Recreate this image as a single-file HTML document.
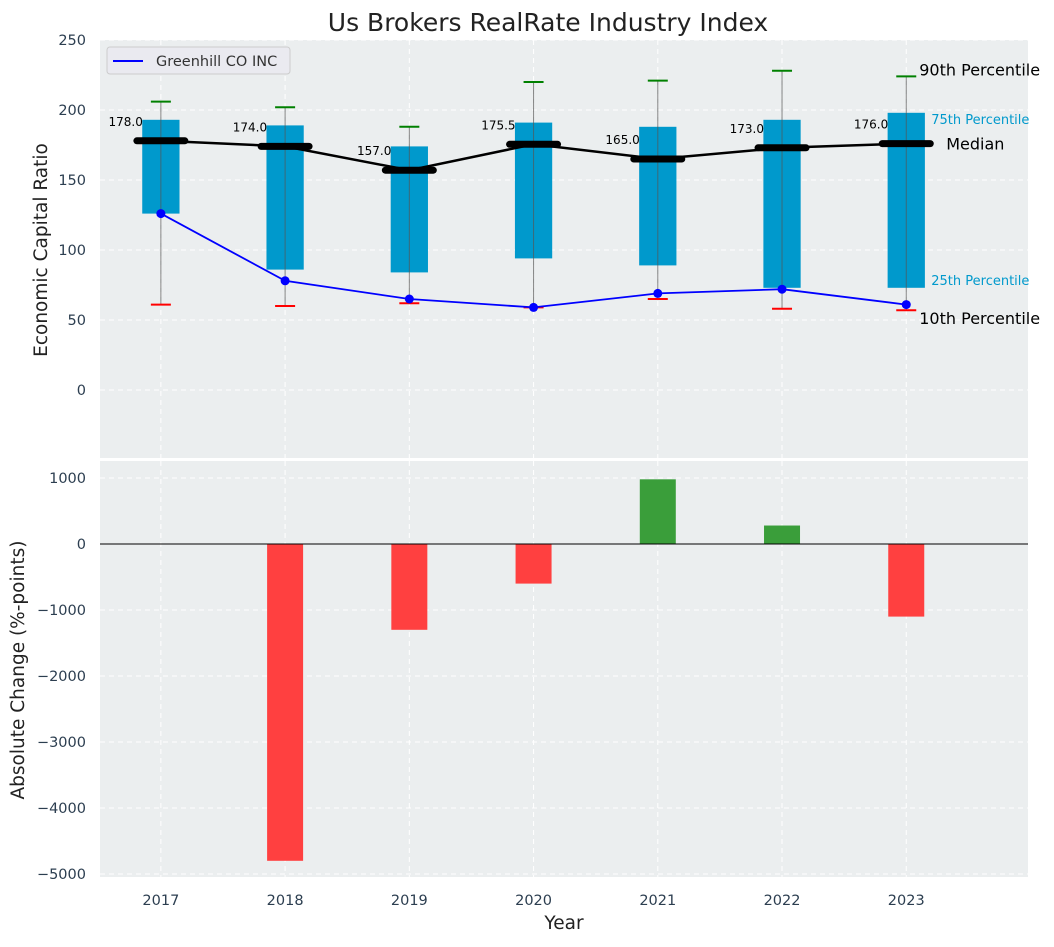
<!DOCTYPE html>
<html><head><meta charset="utf-8"><style>
body{margin:0;background:#fff;font-family:"Liberation Sans","DejaVu Sans",sans-serif}
svg text{font-family:"DejaVu Sans","Liberation Sans",sans-serif}
</style></head><body>
<svg id="c" width="1054" height="942" xmlns="http://www.w3.org/2000/svg"></svg>
<script>
const years=[2017,2018,2019,2020,2021,2022,2023];
const p10=[61,60,62,59,65,58,57];
const p25=[126,86,84,94,89,73,73];
const med=[178,174,157,175.5,165,173,176];
const p75=[193,189,174,191,188,193,198];
const p90=[206,202,188,220,221,228,224];
const company=[126,78,65,59,69,72,61];
const changes=[null,-4800,-1300,-600,980,280,-1100];
const topTicks=[0,50,100,150,200,250];
const botTicks=[-5000,-4000,-3000,-2000,-1000,0,1000];

const svg=document.getElementById('c');
const NS='http://www.w3.org/2000/svg';
function el(tag,a,parent){const e=document.createElementNS(NS,tag);for(const k in a)e.setAttribute(k,a[k]);(parent||svg).appendChild(e);return e;}
const L=100,R=1028;
const TC='#2c3e50';
const x=v=>L+(v-2016.51)/(2023.98-2016.51)*(R-L);
const yT=v=>390-v*1.4;
const yB=v=>544-v*0.066;
const bw=0.3*(x(2018)-x(2017));

let bg=el('rect',{x:L,y:40,width:R-L,height:418,fill:'#ebeeef'});

let bg2=el('rect',{x:L,y:461,width:R-L,height:416,fill:'#ebeeef'});


years.forEach(yr=>{
  el('line',{x1:x(yr),x2:x(yr),y1:40,y2:458,stroke:'#fff','stroke-dasharray':'5,4','stroke-width':1});
  el('line',{x1:x(yr),x2:x(yr),y1:461,y2:877,stroke:'#fff','stroke-dasharray':'5,4','stroke-width':1});
  let t=el('text',{x:x(yr),y:905,'text-anchor':'middle','font-size':14.5,fill:TC});t.textContent=yr;
  
});
topTicks.forEach(v=>{
  el('line',{x1:L,x2:R,y1:yT(v),y2:yT(v),stroke:'#fff','stroke-dasharray':'5,4'});
  let t=el('text',{x:86,y:yT(v)+5,'text-anchor':'end','font-size':14.5,fill:TC});t.textContent=v;
  
});
botTicks.forEach(v=>{
  el('line',{x1:L,x2:R,y1:yB(v),y2:yB(v),stroke:'#fff','stroke-dasharray':'5,4'});
  let t=el('text',{x:86,y:yB(v)+5,'text-anchor':'end','font-size':14.5,fill:TC});t.textContent=v<0?'\u2212'+(-v):v;
  
});

years.forEach((yr,i)=>{
  const cx=x(yr);
  let b=el('rect',{x:cx-bw/2,y:yT(p75[i]),width:bw,height:yT(p25[i])-yT(p75[i]),fill:'#0099cc'});
  
  el('line',{x1:cx,x2:cx,y1:yT(p90[i]),y2:yT(p10[i]),stroke:'#555','stroke-width':1,opacity:0.7});
  el('line',{x1:cx-10,x2:cx+10,y1:yT(p90[i]),y2:yT(p90[i]),stroke:'green','stroke-width':2});
  el('line',{x1:cx-10,x2:cx+10,y1:yT(p10[i]),y2:yT(p10[i]),stroke:'red','stroke-width':2});
});
let mp=years.map((yr,i)=>x(yr)+','+yT(med[i])).join(' ');
let ml=el('polyline',{points:mp,fill:'none',stroke:'#000','stroke-width':2.5});

years.forEach((yr,i)=>{
  const cx=x(yr);
  let m=el('line',{x1:cx-24,x2:cx+24,y1:yT(med[i]),y2:yT(med[i]),stroke:'#000','stroke-width':7,'stroke-linecap':'round'});
  
  let t=el('text',{x:cx-18,y:yT(med[i])-15,'text-anchor':'end','font-size':12,fill:'#000'});t.textContent=med[i].toFixed(1);
  
});
let cl=el('polyline',{points:years.map((yr,i)=>x(yr)+','+yT(company[i])).join(' '),fill:'none',stroke:'blue','stroke-width':1.8});

years.forEach((yr,i)=>{let c=el('circle',{cx:x(yr),cy:yT(company[i]),r:4.5,fill:'blue'});
  });

const li=6,lx=x(years[li]);
function ann(txt,xx,yy,sz,col,name){let t=el('text',{x:xx,y:yy,'font-size':sz,fill:col});t.textContent=txt;}
ann('90th Percentile',lx+13,yT(p90[li])-1,16,'#000','p90-annotation');
ann('75th Percentile',lx+25,yT(p75[li])+11,13,'#0099cc','p75-annotation');
ann('Median',lx+40,yT(med[li])+6,16,'#000','median-annotation');
ann('25th Percentile',lx+25,yT(p25[li])-3,13,'#0099cc','p25-annotation');
ann('10th Percentile',lx+13,yT(p10[li])+14,16,'#000','p10-annotation');

let lg=el('rect',{x:107,y:47,width:183,height:27,rx:3,fill:'#eaeaf0',stroke:'#ccc'});

el('line',{x1:113,x2:143,y1:61,y2:61,stroke:'blue','stroke-width':2});
ann('Greenhill CO INC',156,66,14.5,'#333','legend-entry');

years.forEach((yr,i)=>{
  const v=changes[i]; if(v===null) return;
  let b=el('rect',{x:x(yr)-18,y:Math.min(yB(v),yB(0)),width:36,height:Math.abs(yB(v)-yB(0)),fill:v>=0?'#3a9e3a':'#ff4040'});
  
});
el('line',{x1:L,x2:R,y1:yB(0),y2:yB(0),stroke:'#000','stroke-width':1});

let tt=el('text',{x:548,y:31,'text-anchor':'middle','font-size':25,fill:'#222'});tt.textContent='Us Brokers RealRate Industry Index';

let yt=el('text',{x:47,y:250,'text-anchor':'middle','font-size':18.5,fill:'#222',transform:'rotate(-90 47 250)'});yt.textContent='Economic Capital Ratio';

let yt2=el('text',{x:24,y:670,'text-anchor':'middle','font-size':18.5,fill:'#222',transform:'rotate(-90 24 670)'});yt2.textContent='Absolute Change (%-points)';

let xt=el('text',{x:564,y:929,'text-anchor':'middle','font-size':18.5,fill:'#222'});xt.textContent='Year';

</script>
</body></html>
